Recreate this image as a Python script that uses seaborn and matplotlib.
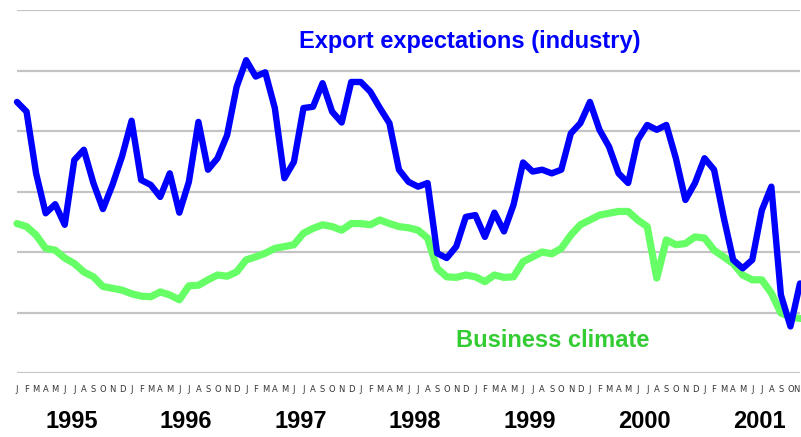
import numpy as np
import pandas as pd
import matplotlib
matplotlib.use("Agg")
import matplotlib.pyplot as plt
import matplotlib.transforms as mtransforms
import seaborn as sns

# monthly readings, Jan 1995 .. Nov 2001 (no y scale shown)
years = [1995, 1996, 1997, 1998, 1999, 2000, 2001]
month_letters = ["J", "F", "M", "A", "M", "J", "J", "A", "S", "O", "N", "D"]

export_expectations = [
    44.8, 43.2, 33.0, 26.4, 27.9, 24.5, 35.2, 36.9, 31.4, 27.1, 31.1, 35.8,
    41.7, 31.9, 31.1, 29.1, 33.0, 26.5, 31.6, 41.5, 33.6, 35.5, 39.3, 47.3,
    51.7, 49.0, 49.7, 43.8, 32.2, 34.9, 43.8, 44.0, 47.9, 43.2, 41.4, 48.1,
    48.1, 46.5, 43.8, 41.3, 33.6, 31.6, 30.8, 31.4, 19.8, 19.0, 20.9, 25.8,
    26.1, 22.5, 26.5, 23.4, 27.8, 34.8, 33.3, 33.6, 33.0, 33.6, 39.6, 41.3,
    44.8, 40.2, 37.4, 33.0, 31.4, 38.5, 41.0, 40.2, 41.0, 35.5, 28.6, 31.4,
    35.5, 33.6, 25.8, 18.7, 17.3, 18.7, 26.9, 30.8, 12.9, 7.7, 14.8,
]

business_climate = [
    24.7, 24.2, 22.8, 20.6, 20.3, 19.0, 18.1, 16.7, 15.9, 14.3, 14.0, 13.7,
    13.1, 12.7, 12.6, 13.4, 12.9, 12.1, 14.4, 14.5, 15.4, 16.2, 16.0, 16.7,
    18.7, 19.2, 19.8, 20.6, 20.9, 21.2, 23.1, 23.9, 24.5, 24.2, 23.6, 24.7,
    24.7, 24.5, 25.3, 24.7, 24.2, 24.0, 23.6, 22.3, 17.3, 15.9, 15.8, 16.2,
    15.9, 15.1, 16.2, 15.8, 15.9, 18.4, 19.2, 20.0, 19.7, 20.6, 22.8, 24.5,
    25.3, 26.1, 26.4, 26.7, 26.7, 25.3, 24.2, 15.7, 22.0, 21.2, 21.4, 22.5,
    22.3, 20.3, 19.2, 18.1, 16.2, 15.4, 15.4, 13.2, 9.9, 9.3, 9.0,
]

n = len(export_expectations)
df = pd.DataFrame({
    "month": np.arange(n),
    "export": export_expectations,
    "climate": business_climate,
})

sns.set_style("white")

fig = plt.figure(figsize=(8.01, 4.37), dpi=100)
ax = fig.add_axes([17 / 801, 64 / 437, 783 / 801, 363 / 437])

sns.lineplot(data=df, x="month", y="climate", color="#66FF66", linewidth=5.2,
             ax=ax, clip_on=False)
sns.lineplot(data=df, x="month", y="export", color="#0000FF", linewidth=4.6,
             ax=ax, clip_on=False)

ax.set_xlim(0, n - 1)
ax.set_ylim(0, 60)
ax.set_yticks(range(0, 61, 10))
ax.yaxis.grid(True, color="#C4C4C4", linewidth=1.6)
ax.set_axisbelow(True)
ax.tick_params(axis="y", left=False, labelleft=False)
for s in ax.spines.values():
    s.set_visible(False)

# month letters
labels = [month_letters[i % 12] for i in range(n)]
ax.set_xticks(range(n))
ax.set_xticklabels(labels, fontsize=6, color="#333333")
ax.tick_params(axis="x", length=0, pad=9)
ax.get_xticklabels()[-1].set_ha("right")  # keep the last letter inside the frame
ax.set_xlabel("")
ax.set_ylabel("")

# year labels
trans = mtransforms.blended_transform_factory(ax.transData, fig.transFigure)
for k, yr in enumerate(years):
    ax.text(12 * k + 5.7, 1 - 422 / 437, str(yr), transform=trans,
            ha="center", va="center", fontsize=17, fontweight="bold",
            family="Liberation Sans", color="black")

ax.text(47.4, 54.8, "Export expectations (industry)", ha="center", va="center",
        fontsize=17, fontweight="bold", family="Liberation Sans", color="#0000FF")
ax.text(56.1, 5.4, "Business climate", ha="center", va="center",
        fontsize=17, fontweight="bold", family="Liberation Sans", color="#33CC33")

fig.savefig("out.png", dpi=100)
